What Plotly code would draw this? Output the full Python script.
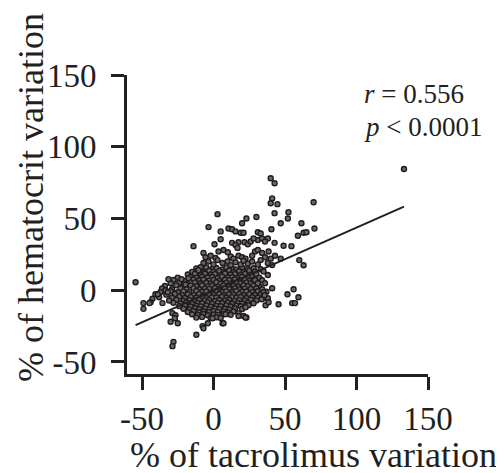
import plotly.graph_objects as go

# ---- data (% variation) ----
upper_points = [
    (40, 78), (42.7, 74.6), (41, 64), (40, 60.6), (44.7, 60), (70, 61.3), (2.8, 53), (42.7, 53.7), (52.4, 54.4),
    (23, 50), (30, 51), (52, 50), (20, 46.7), (47, 46.7), (61.5, 46.7), (70.6, 43), (-3.5, 44), (5, 41),
    (10.5, 43), (13, 42.5), (15.4, 41), (19, 40), (21, 40), (31, 40.4), (33, 39.5), (40.5, 42.5), (59, 38),
    (63, 40), (65, 40.4), (-14, 30.7), (5, 35.5), (0.7, 32), (13, 33), (17.5, 33.4), (21.7, 33.4), (31, 35),
    (34, 36), (38, 36), (42.7, 33), (49, 31), (54.5, 30.7), (15.4, 31.5), (16.8, 29.5), (24, 32), (26, 34),
    (28, 36), (36, 34), (60, 21), (63, 17.4), (133.2, 84.5),
    (3.5, 27), (7, 28), (10, 26.5), (29, 27), (31, 28), (34, 26), (38.5, 27), (-7, 26),
    (-5.6, 23), (-2, 24), (1.4, 22.5), (12, 23.5), (14, 22), (17.5, 24), (20, 23), (22.4, 22), (27, 24),
    (36, 23), (40, 22), (43, 24), (47, 22),
    (-7, 19), (-3.5, 20), (0, 18), (2.8, 21), (6.3, 19), (9.8, 20), (12, 17.5), (15.4, 19.5), (19, 18),
    (21, 20.5), (24, 18.5), (27, 20), (31, 18), (33, 21), (38, 19), (41, 17.5), (-9, 16), (-10.5, 14),
]

side_points = [
    (41, 1.4), (56, 0.7), (51.7, -2.8), (59.4, -4.9), (55, -9), (57, -9), (45.5, -9.8), (35, -5.6),
    (36.4, -10.5), (38, -5.6), (38.5, -8.4), (33.6, -6.3), (35, -1.4), (35.7, -3.5), (29, 7), (31, 4.9),
    (24.5, -10.5), (22.4, -11.8),
    (-54.5, 5.6), (-31.5, 7.7), (-22.4, 7.7), (-17.5, 8.4), (-19.6, 4), (-40.6, -2.8), (-39, -2.8),
    (-42.7, -6), (-44, -8.4), (-44.8, -9), (-49, -9), (-49, -13), (-35.7, -9), (-33.6, 0), (-32, -1.4),
    (-28.7, -16), (-26.6, -17.4), (-27, -19.5), (-25, -23), (-30, -22), (-7.7, -25), (-7, -26.5),
    (-12, -31), (-28, -36), (-28.7, -39), (6.3, -23), (7, -23), (8.4, -16.7), (17.5, -16), (21, -18),
    (23, -19), (17.5, -18), (22.4, -19), (-0.7, -19.5), (-4, -23),
]

core_points = [
    (-12, 15.2), (-8, 14.6), (-5, 15.8), (-1, 14.9), (2, 15.5), (6, 14.4), (9, 15.9), (13, 15.1), (16, 14.5),
    (20, 15.7), (24, 14.8), (28, 15.3), (33, 14.6),
    (-15, 12.8), (-11, 13.4), (-7, 12.5), (-3, 13.6), (0, 12.9), (4, 13.3), (7, 12.4), (11, 13.7), (14, 12.7),
    (18, 13.2), (21, 12.6), (25, 13.5), (29, 12.9), (35, 13.1),
    (-18, 10.9), (-13, 11.4), (-9, 10.6), (-6, 11.5), (-2, 10.8), (1, 11.2), (5, 10.5), (8, 11.6), (12, 10.9),
    (15, 11.3), (19, 10.7), (22, 11.4), (26, 10.8), (30, 11.2), (38, 10.6),
    (-25, 8.8), (-16, 9.3), (-12, 8.6), (-8, 9.4), (-4, 8.9), (-1, 9.2), (3, 8.5), (6, 9.5), (10, 8.8),
    (13, 9.1), (17, 8.6), (20, 9.4), (24, 8.9), (27, 9.3), (32, 8.7),
    (-28, 7.1), (-20, 6.6), (-14, 7.4), (-10, 6.8), (-7, 7.5), (-3, 6.7), (0, 7.2), (4, 6.5), (8, 7.3),
    (11, 6.9), (15, 7.6), (18, 6.8), (22, 7.2), (25, 6.6), (28, 7.4), (34, 6.9),
    (-30, 4.8), (-24, 5.3), (-18, 4.6), (-13, 5.4), (-9, 4.9), (-5, 5.2), (-2, 4.5), (2, 5.5), (5, 4.7),
    (9, 5.1), (12, 4.6), (16, 5.4), (19, 4.8), (23, 5.3), (26, 4.7), (30, 5.2), (36, 4.9),
    (-34, 2.9), (-26, 3.4), (-21, 2.6), (-16, 3.3), (-12, 2.8), (-8, 3.5), (-4, 2.7), (-1, 3.2), (3, 2.5),
    (7, 3.4), (10, 2.9), (14, 3.1), (17, 2.6), (21, 3.5), (24, 2.8), (28, 3.2), (32, 2.7),
    (-36, 1.2), (-29, 0.7), (-23, 1.4), (-19, 0.8), (-14, 1.3), (-10, 0.6), (-6, 1.1), (-3, 0.9), (1, 1.5),
    (4, 0.7), (8, 1.2), (11, 0.8), (15, 1.4), (18, 0.6), (22, 1.1), (26, 0.9), (30, 1.3), (34, 0.7),
    (-37, -1.2), (-30, -0.7), (-25, -1.4), (-21, -0.8), (-17, -1.3), (-12, -0.6), (-8, -1.1), (-5, -0.9),
    (-1, -1.5), (2, -0.7), (6, -1.2), (9, -0.8), (13, -1.4), (16, -0.6), (20, -1.1), (23, -0.9), (27, -1.3),
    (31, -0.7), (37, -1.1),
    (-33, -3.1), (-27, -2.6), (-22, -3.4), (-18, -2.8), (-14, -3.3), (-10, -2.7), (-7, -3.5), (-3, -2.9),
    (0, -3.2), (4, -2.6), (7, -3.4), (11, -2.8), (14, -3.1), (18, -2.7), (21, -3.5), (25, -2.9), (29, -3.3),
    (33, -2.6),
    (-38, -4.9), (-29, -5.3), (-24, -4.6), (-20, -5.4), (-16, -4.8), (-12, -5.2), (-8, -4.7), (-5, -5.5),
    (-1, -4.9), (2, -5.1), (6, -4.6), (9, -5.3), (13, -4.8), (16, -5.2), (19, -4.7), (23, -5.4), (27, -4.9),
    (31, -5.1),
    (-31, -7.2), (-26, -6.7), (-21, -7.4), (-17, -6.8), (-13, -7.3), (-10, -6.6), (-6, -7.1), (-3, -6.9),
    (1, -7.5), (4, -6.8), (8, -7.2), (11, -6.7), (15, -7.4), (18, -6.9), (22, -7.2), (26, -6.6), (30, -7.1),
    (-28, -8.8), (-23, -9.3), (-19, -8.6), (-15, -9.4), (-11, -8.9), (-8, -9.2), (-4, -8.5), (-1, -9.5),
    (3, -8.8), (6, -9.1), (10, -8.6), (13, -9.4), (17, -8.9), (20, -9.3), (24, -8.7), (28, -9.1),
    (-24, -11.1), (-20, -10.6), (-16, -11.4), (-12, -10.8), (-9, -11.3), (-5, -10.7), (-2, -11.5),
    (2, -10.9), (5, -11.2), (9, -10.6), (12, -11.4), (16, -10.8), (19, -11.2), (23, -10.7),
    (-21, -12.9), (-17, -13.4), (-13, -12.6), (-10, -13.3), (-6, -12.8), (-3, -13.5), (1, -12.7),
    (4, -13.2), (8, -12.9), (11, -13.4), (15, -12.7), (20, -13.1),
    (-18, -15.2), (-14, -14.7), (-10, -15.4), (-7, -14.8), (-3, -15.3), (0, -14.6), (3, -15.1),
    (7, -14.9), (10, -15.5), (14, -14.8),
    (-15, -16.8), (-11, -17.3), (-7, -16.6), (-4, -17.4), (0, -16.9), (3, -17.2), (7, -16.7), (12, -17.1),
    (-12, -19.1), (-8, -18.6), (-2, -19.3), (2, -18.8), (5, -19.4),
]

fit_slope = 0.44
fit_intercept = -0.4
r_text = "<i>r</i> = 0.556"
p_text = "<i>p</i> < 0.0001"
x_title = "% of tacrolimus variation"
y_title = "% of hematocrit variation"
x_ticks = [-50, 0, 50, 100, 150]
y_ticks = [-50, 0, 50, 100, 150]

# ---- build ----
all_points = core_points + upper_points + side_points
xs = [p[0] for p in all_points]
ys = [p[1] for p in all_points]
x_lo, x_hi = min(xs), max(xs)

INK = "#231f20"
FONT = "Liberation Serif"

fig = go.Figure()
fig.add_trace(go.Scatter(
    x=xs, y=ys, mode="markers",
    marker=dict(size=5, color="#6b6767", line=dict(color="#1f1b1c", width=1.4)),
    showlegend=False, hoverinfo="skip",
))
fig.add_trace(go.Scatter(
    x=[x_lo, x_hi], y=[fit_slope * x_lo + fit_intercept, fit_slope * x_hi + fit_intercept],
    mode="lines", line=dict(color=INK, width=2), showlegend=False, hoverinfo="skip",
))

fig.add_annotation(xref="paper", yref="paper", x=0.78, y=0.935, xanchor="left", yanchor="middle",
                   text=r_text, showarrow=False, font=dict(family=FONT, size=27, color=INK))
fig.add_annotation(xref="paper", yref="paper", x=0.78, y=0.826, xanchor="left", yanchor="middle",
                   text=p_text, showarrow=False, font=dict(family=FONT, size=27, color=INK))
fig.add_annotation(xref="paper", yref="paper", x=0.621, y=-0.272, xanchor="center", yanchor="middle",
                   text=x_title, showarrow=False, font=dict(family=FONT, size=36, color=INK))
fig.add_annotation(xref="paper", yref="paper", x=-0.319, y=0.592, xanchor="center", yanchor="middle",
                   text=y_title, textangle=-90, showarrow=False, font=dict(family=FONT, size=36, color=INK))

axis_common = dict(
    showline=True, linewidth=3, linecolor=INK, ticks="outside", ticklen=13, tickwidth=3,
    tickcolor=INK, showgrid=False, zeroline=False, automargin=False,
    tickfont=dict(family=FONT, size=33, color=INK),
)
fig.update_xaxes(range=[-60.5, 150], tickvals=x_ticks, ticktext=[str(v) for v in x_ticks],
                 ticklabelstandoff=0, **axis_common)
fig.update_yaxes(range=[-58.4, 150], tickvals=y_ticks, ticktext=[str(v) for v in y_ticks],
                 ticklabelstandoff=8, **axis_common)

# page body adds an 8px offset, so the figure is 8px smaller to fit the 504x473 window
fig.update_layout(
    width=496, height=465,
    margin=dict(l=119, r=76, t=67, b=99),
    plot_bgcolor="white", paper_bgcolor="white",
    font=dict(family=FONT, color=INK),
)

fig.write_html("out.html")
